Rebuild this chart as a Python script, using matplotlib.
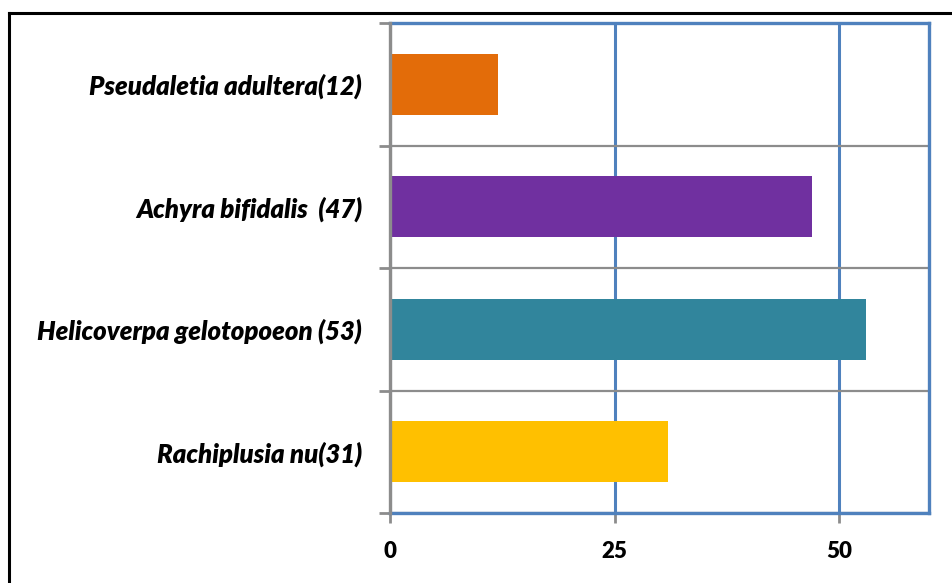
import matplotlib
matplotlib.use("Agg")
import matplotlib.pyplot as plt
from matplotlib.lines import Line2D

species = ["Rachiplusia nu(31)", "Helicoverpa gelotopoeon (53)",
           "Achyra bifidalis  (47)", "Pseudaletia adultera(12)"]
counts = [31, 53, 47, 12]
colors = ["#FFC000", "#31859C", "#7030A0", "#E36C09"]
x_ticks = [0, 25, 50]

plt.rcParams["font.family"] = ["Lato", "DejaVu Sans"]

fig = plt.figure(figsize=(9.52, 5.83), dpi=100)
ax = fig.add_axes([390 / 952, 1 - 513 / 583, (929 - 390) / 952, (513 - 23) / 583])

pos = list(range(len(species)))
ax.barh(pos, counts, height=0.5, color=colors, zorder=3)

ax.set_xlim(0, 60)
ax.set_ylim(-0.5, len(species) - 0.5)

blue = "#4F81BD"
gray = "#8C8C8C"

# vertical value gridlines
ax.set_xticks(x_ticks)
ax.set_xticklabels([str(v) for v in x_ticks], fontsize=16, fontweight="heavy")
ax.xaxis.grid(True, color=blue, lw=2.2, zorder=1)
ax.tick_params(axis="x", length=7, width=2, color=gray, pad=13)

# category labels, with separators on the band boundaries
ax.set_yticks(pos)
ax.set_yticklabels(species, fontsize=18.5, fontweight="heavy", fontstyle="italic")
ax.set_yticks([p - 0.5 for p in pos] + [len(species) - 0.5], minor=True)
ax.tick_params(axis="y", which="major", length=0, pad=20)
ax.tick_params(axis="y", which="minor", length=8, width=2, color=gray)
ax.yaxis.grid(True, which="minor", color=gray, lw=1.6, zorder=1)

for side in ("top", "right", "bottom"):
    ax.spines[side].set_color(blue)
    ax.spines[side].set_linewidth(2.4)
ax.spines["left"].set_color(gray)
ax.spines["left"].set_linewidth(2.4)
ax.spines["left"].set_zorder(4)

# outer chart border
fig.add_artist(Line2D([9 / 952, 9 / 952], [0, 1 - 13 / 583], color="black", lw=2.2,
                      transform=fig.transFigure))
fig.add_artist(Line2D([9 / 952, 1], [1 - 13 / 583, 1 - 13 / 583], color="black", lw=2.2,
                      transform=fig.transFigure))

fig.savefig("out.png", dpi=100)
